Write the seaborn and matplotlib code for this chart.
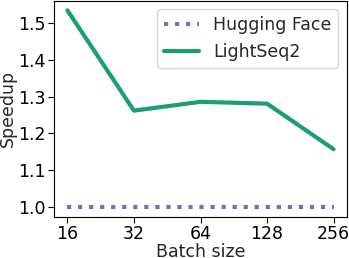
import matplotlib
matplotlib.use("Agg")
import matplotlib.pyplot as plt
import seaborn as sns
import pandas as pd

batch_sizes = ["16", "32", "64", "128", "256"]
hugging_face = [1.0, 1.0, 1.0, 1.0, 1.0]
lightseq2 = [1.535, 1.262, 1.286, 1.281, 1.157]

sns.set_style("ticks", {'axes.edgecolor': 'black', 'xtick.color': 'black', 'ytick.color': 'black'})
plt.rcParams['font.family'] = ['DejaVu Sans']

df = pd.DataFrame({
    'batch': batch_sizes * 2,
    'speedup': hugging_face + lightseq2,
    'system': ['Hugging Face'] * 5 + ['LightSeq2'] * 5,
})

fig, ax = plt.subplots(figsize=(3.49, 2.58), dpi=100)
sns.lineplot(data=df[df.system == 'Hugging Face'], x='batch', y='speedup', ax=ax,
             color='#7570b3', linestyle=':', linewidth=3, label='Hugging Face', sort=False)
sns.lineplot(data=df[df.system == 'LightSeq2'], x='batch', y='speedup', ax=ax,
             color='#1b9e77', linewidth=3, label='LightSeq2', sort=False)

fs = 12.5
ax.set_xlabel('Batch size', fontsize=fs, labelpad=0)
ax.set_ylabel('Speedup', fontsize=fs, labelpad=1)
ax.tick_params(labelsize=fs, length=4, pad=2)
ax.set_yticks([1.0, 1.1, 1.2, 1.3, 1.4, 1.5])
ax.legend(fontsize=fs, loc='upper right', handlelength=2.0)

fig.subplots_adjust(left=0.155, right=0.994, top=0.998, bottom=0.16)
fig.savefig('out.png')
